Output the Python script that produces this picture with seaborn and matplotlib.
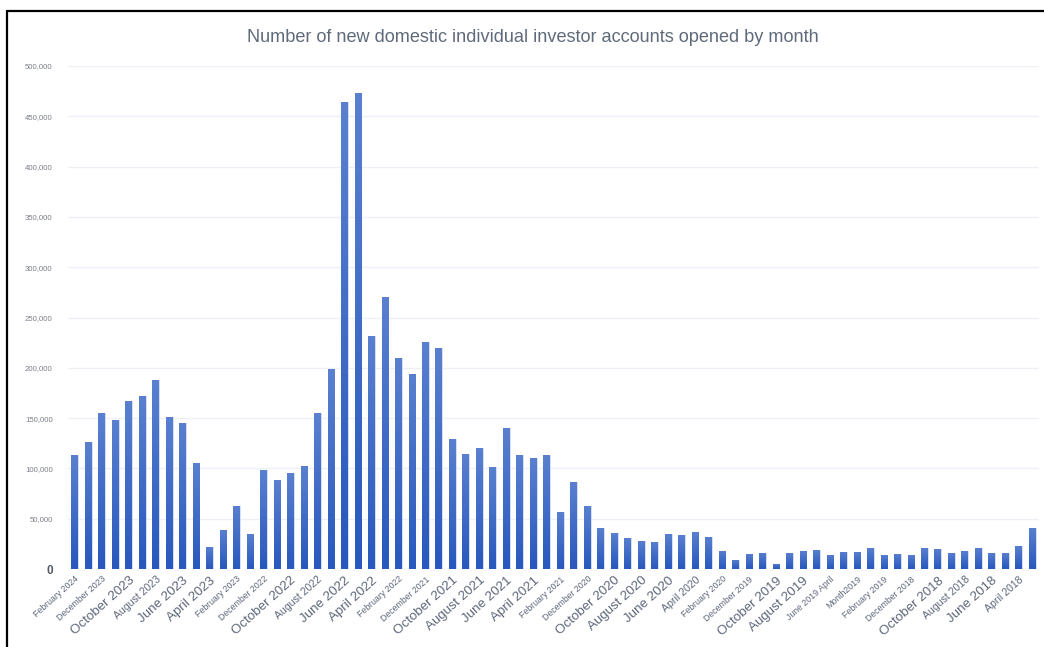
import numpy as np
import pandas as pd
import matplotlib
matplotlib.use("Agg")
import matplotlib.pyplot as plt
import seaborn as sns
from matplotlib.colors import LinearSegmentedColormap

# ---- data (newest first, Feb 2024 back to Mar 2018) ----
months = [p.strftime("%B %Y") for p in pd.period_range("2018-03", "2024-02", freq="M")][::-1]
accounts = [
    113000, 126000, 155000, 148000, 167000, 172000, 188000, 151000, 145000, 105000,
    22000, 39000, 63000, 35000, 98000, 88000, 95000, 102000, 155000, 199000,
    464000, 473000, 232000, 270000, 210000, 194000, 226000, 220000, 129000, 114000,
    120000, 101000, 140000, 113000, 110000, 113000, 57000, 86000, 63000, 41000,
    36000, 31000, 28000, 27000, 35000, 34000, 37000, 32000, 18000, 9000,
    15000, 16000, 5000, 16000, 18000, 19000, 14000, 17000, 17000, 21000,
    14000, 15000, 14000, 21000, 20000, 16000, 18000, 21000, 16000, 16000,
    23000, 41000,
]
tick_labels = [
    "February 2024", "December 2023", "October 2023", "August 2023", "June 2023", "April 2023",
    "February 2023", "December 2022", "October 2022", "August 2022", "June 2022", "April 2022",
    "February 2022", "December 2021", "October 2021", "August 2021", "June 2021", "April 2021",
    "February 2021", "December 2020", "October 2020", "August 2020", "June 2020", "April 2020",
    "February 2020", "December 2019", "October 2019", "August 2019", "June 2019 April", "Month2019",
    "February 2019", "December 2018", "October 2018", "August 2018", "June 2018", "April 2018",
]
y_ticks = [0, 50000, 100000, 150000, 200000, 250000, 300000, 350000, 400000, 450000, 500000]

# label size style: s=small, m=medium, l=large
label_style = "sslmll" + "sslmll" + "ssllll" + "sslllm" + "ssllss" + "sslmlm"
size_map = {"s": 6.3, "m": 7.6, "l": 9.6}

df = pd.DataFrame({"month": months, "accounts": accounts})

sns.set_theme(style="white")
plt.rcParams["font.family"] = ["Liberation Sans", "DejaVu Sans"]

fig = plt.figure(figsize=(10.44, 6.47), dpi=100)
ax = fig.add_axes([68 / 1044, 78 / 647, (1039 - 68) / 1044, (569 - 66) / 647])

sns.barplot(data=df, x="month", y="accounts", order=months, color="#3263c3",
            width=0.5, ax=ax, saturation=1)

# vertical gradient on each bar
cmap = LinearSegmentedColormap.from_list("g", ["#2858bd", "#5a80cf"])
grad = np.linspace(0, 1, 256).reshape(-1, 1)
for p in list(ax.patches):
    x0, y0 = p.get_x(), p.get_y()
    w, h = p.get_width(), p.get_height()
    p.set_edgecolor("#dfe7f6")
    p.set_linewidth(0.6)
    im = ax.imshow(grad, extent=[x0, x0 + w, y0, y0 + h], origin="lower",
                   cmap=cmap, aspect="auto", zorder=p.get_zorder() + 0.1)
    im.set_clip_path(p)

ax.set_xlim(-0.5, len(months) - 0.5)
ax.set_ylim(0, 500000)
ax.set_xlabel("")
ax.set_ylabel("")

ax.set_yticks(y_ticks)
ax.set_yticklabels([f"{v:,}" for v in y_ticks])
ax.yaxis.grid(True, color="#eef0f6", linewidth=1.0)
ax.set_axisbelow(True)
ax.tick_params(axis="y", length=0, pad=11)
for t in ax.get_yticklabels():
    if t.get_text() == "0":
        t.set_fontsize(8.5)
        t.set_color("#555b66")
        t.set_fontweight("bold")
    else:
        t.set_fontsize(5.6)
        t.set_color("#7a7f88")

ax.set_xticks(range(0, len(months), 2))
ax.set_xticklabels(tick_labels)
ax.tick_params(axis="x", length=0, pad=4)
for t, st in zip(ax.get_xticklabels(), label_style):
    t.set_rotation(42)
    t.set_rotation_mode("anchor")
    t.set_ha("right")
    t.set_va("top")
    t.set_fontsize(size_map[st])
    t.set_color("#5d6679")

for s in ax.spines.values():
    s.set_visible(False)

fig.text(533 / 1044, 1 - 37 / 647,
         "Number of new domestic individual investor accounts opened by month",
         ha="center", va="center", fontsize=13.1, color="#5f6a7b")

# outer frame (left and top edges)
fig.add_artist(plt.Line2D([7 / 1044, 7 / 1044], [0, 1 - 11 / 647], color="black", lw=1.6,
                          transform=fig.transFigure))
fig.add_artist(plt.Line2D([7 / 1044, 1], [1 - 11 / 647, 1 - 11 / 647], color="black", lw=1.6,
                          transform=fig.transFigure))

fig.savefig("out.png", dpi=100)
